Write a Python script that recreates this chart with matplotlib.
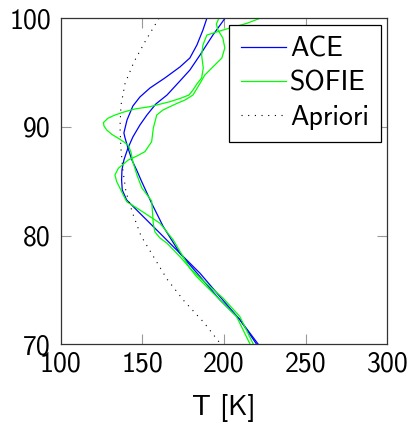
import matplotlib
matplotlib.use("Agg")
import matplotlib.pyplot as plt

plt.rcParams["font.family"] = "cmss10"
plt.rcParams["axes.unicode_minus"] = False
plt.rcParams["mathtext.fontset"] = "cm"

# ACE profiles (temperature in K, altitude in km)
ace1_T = [189.5, 187.1, 183.4, 179.1, 173.0, 163.8, 154.7, 148.5, 144.2, 140.6,
          138.7, 139.4, 141.2, 143.6, 146.5, 149.6, 155.7, 162.8, 173.0, 185.3,
          197.5, 209.7, 221.0]
ace1_z = [100.0, 98.92, 97.54, 96.35, 95.52, 94.51, 93.59, 92.76, 91.93, 90.64,
          89.45, 88.99, 88.07, 86.96, 86.04, 84.97, 82.98, 80.83, 78.38, 76.54,
          74.39, 72.27, 70.0]

ace2_T = [200.6, 193.2, 185.3, 179.1, 173.0, 165.1, 158.3, 152.8, 148.5, 144.2,
          141.2, 138.7, 137.5, 137.3, 137.7, 140.4, 148.5, 160.8, 173.0, 185.3,
          197.5, 209.7, 220.0]
ace2_z = [100.0, 98.46, 96.62, 95.24, 94.23, 92.94, 92.12, 91.10, 90.18, 89.08,
          88.07, 86.96, 86.04, 85.12, 84.20, 83.28, 82.06, 80.22, 78.38, 76.23,
          74.09, 72.27, 70.0]

# SOFIE profiles
sofie1_T = [222.0, 214.0, 199.3, 189.5, 187.1, 186.3, 187.3, 186.3, 183.4, 181.0,
            178.5, 173.0, 166.9, 154.7, 145.5, 139.4, 133.2, 128.9, 126.2, 126.5,
            128.2, 131.4, 135.3, 138.7, 141.4, 143.0, 144.2, 146.7, 149.7, 153.4,
            155.7, 156.2, 156.7, 157.7, 160.8, 165.1, 173.0, 179.1, 185.3, 199.3,
            209.7, 218.0]
sofie1_z = [100.0, 99.54, 98.92, 98.46, 97.54, 96.62, 95.43, 94.51, 93.96, 93.40,
            92.94, 92.62, 92.33, 91.87, 91.66, 91.41, 91.10, 90.80, 90.41, 90.09,
            89.72, 89.31, 88.96, 88.62, 88.30, 87.70, 86.78, 85.58, 84.39, 83.65,
            83.19, 82.18, 81.08, 80.34, 79.78, 79.30, 78.07, 77.03, 76.11, 74.27,
            72.55, 70.0]

sofie2_T = [196.9, 195.3, 196.3, 199.3, 200.5, 198.7, 193.8, 188.3, 184.0, 181.0,
            176.1, 171.8, 166.9, 162.6, 158.8, 156.7, 155.7, 151.6, 146.7, 141.4,
            135.3, 133.2, 134.3, 136.3, 138.3, 140.4, 148.5, 160.8, 168.9, 179.1,
            183.2, 195.5, 207.7, 216.0]
sofie2_z = [100.0, 99.48, 98.92, 98.19, 97.27, 96.35, 95.62, 94.79, 93.68, 92.94,
            92.48, 92.21, 91.87, 91.56, 91.10, 89.88, 88.65, 87.73, 87.33, 86.96,
            86.20, 85.58, 84.97, 84.36, 83.74, 83.13, 82.36, 81.14, 79.61, 77.00,
            76.23, 74.39, 72.55, 70.0]

# a priori profile
apriori_z = [100, 98, 96, 94, 92, 90, 88, 86, 84, 82, 80, 78, 76, 74, 72, 70]
apriori_T = [160.2, 152.2, 144.9, 139.4, 136.9, 136.3, 136.9, 138.1, 140.0, 144.2,
             149.1, 157.1, 165.1, 175.5, 187.7, 198.1]

x_ticks = [100, 150, 200, 250, 300]
y_ticks = [70, 80, 90, 100]

fig = plt.figure(figsize=(4.11, 4.25), dpi=100)
ax = fig.add_axes([0.1477, 0.1899, 0.7946, 0.767])

ax.plot(ace1_T, ace1_z, color="blue", lw=0.9, label="ACE")
ax.plot(ace2_T, ace2_z, color="blue", lw=0.9)
ax.plot(sofie1_T, sofie1_z, color="#00ff00", lw=0.9, label="SOFIE")
ax.plot(sofie2_T, sofie2_z, color="#00ff00", lw=0.9)
ax.plot(apriori_T, apriori_z, color="black", lw=0.8, ls=(0, (1, 5)), label="Apriori")

ax.set_xlim(100, 300)
ax.set_ylim(70, 100)
ax.set_xticks(x_ticks)
ax.set_yticks(y_ticks)
ax.set_xlabel("T [K]", fontsize=20, labelpad=13)

ax.tick_params(direction="in", top=True, right=True, length=7.2, width=0.8,
               color="0.6", labelsize=20)
ax.tick_params(axis="x", pad=5)
ax.tick_params(axis="y", pad=7)

# no tick marks at the corners
for tl in [ax.xaxis.get_major_ticks(), ax.yaxis.get_major_ticks()]:
    for t in (tl[0], tl[-1]):
        t.tick1line.set_visible(False)
        t.tick2line.set_visible(False)

for s in ax.spines.values():
    s.set_color("0.2")
    s.set_linewidth(0.9)

leg = ax.legend(loc="upper right", bbox_to_anchor=(0.98, 0.98), borderaxespad=0,
                fontsize=20, handlelength=1.6, handletextpad=0.15, borderpad=0.43,
                labelspacing=0.33, fancybox=False, framealpha=1)
leg.get_frame().set_edgecolor("black")
leg.get_frame().set_linewidth(0.9)

fig.savefig("out.png", dpi=100)
